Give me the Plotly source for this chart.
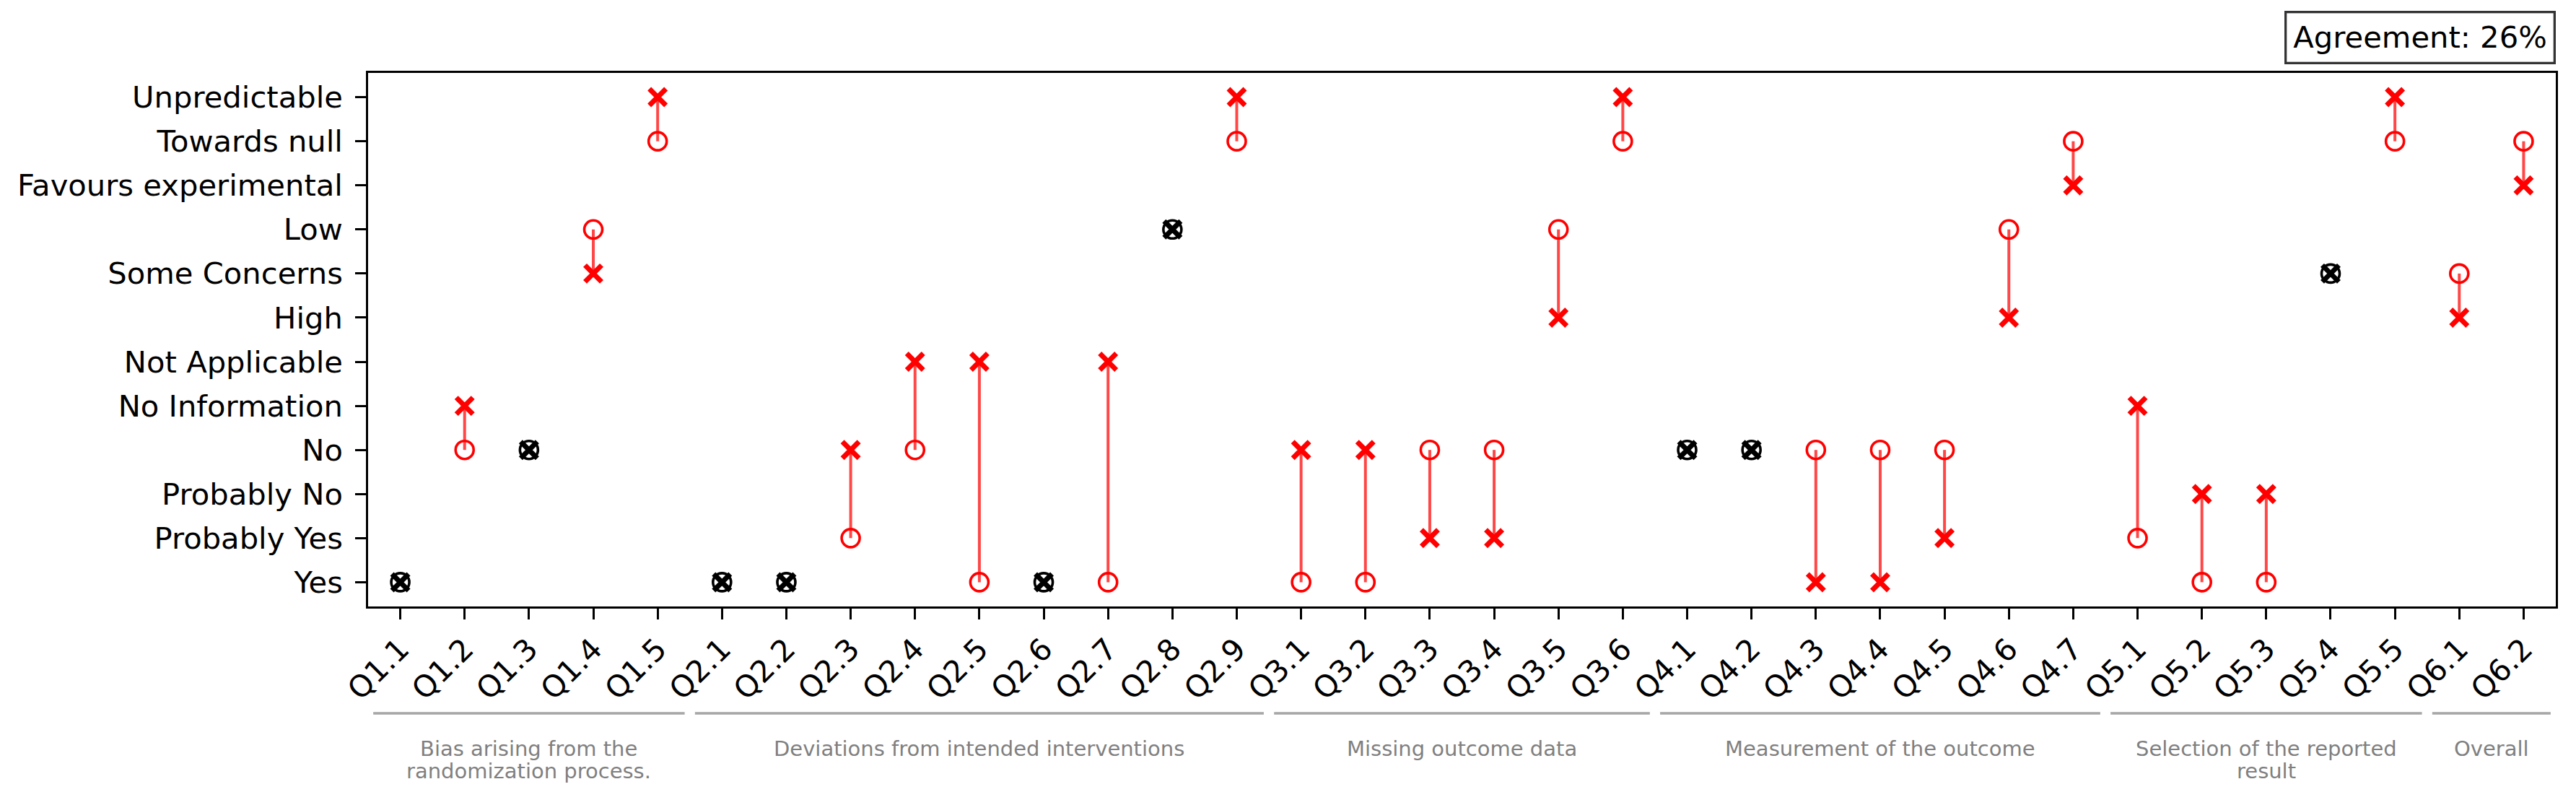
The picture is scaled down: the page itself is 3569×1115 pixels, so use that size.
import plotly.graph_objects as go

questions = ["Q1.1", "Q1.2", "Q1.3", "Q1.4", "Q1.5",
             "Q2.1", "Q2.2", "Q2.3", "Q2.4", "Q2.5", "Q2.6", "Q2.7", "Q2.8", "Q2.9",
             "Q3.1", "Q3.2", "Q3.3", "Q3.4", "Q3.5", "Q3.6",
             "Q4.1", "Q4.2", "Q4.3", "Q4.4", "Q4.5", "Q4.6", "Q4.7",
             "Q5.1", "Q5.2", "Q5.3", "Q5.4", "Q5.5",
             "Q6.1", "Q6.2"]

levels = ["Yes", "Probably Yes", "Probably No", "No", "No Information",
          "Not Applicable", "High", "Some Concerns", "Low",
          "Favours experimental", "Towards null", "Unpredictable"]

rater_circle = ["Yes", "No", "No", "Low", "Towards null",
                "Yes", "Yes", "Probably Yes", "No", "Yes", "Yes", "Yes", "Low", "Towards null",
                "Yes", "Yes", "No", "No", "Low", "Towards null",
                "No", "No", "No", "No", "No", "Low", "Towards null",
                "Probably Yes", "Yes", "Yes", "Some Concerns", "Towards null",
                "Some Concerns", "Towards null"]

rater_cross = ["Yes", "No Information", "No", "Some Concerns", "Unpredictable",
               "Yes", "Yes", "No", "Not Applicable", "Not Applicable", "Yes", "Not Applicable", "Low", "Unpredictable",
               "No", "No", "Probably Yes", "Probably Yes", "High", "Unpredictable",
               "No", "No", "Yes", "Yes", "Probably Yes", "High", "Favours experimental",
               "No Information", "Probably No", "Probably No", "Some Concerns", "Unpredictable",
               "High", "Favours experimental"]

group_names = ["Bias arising from the\nrandomization process.",
               "Deviations from intended interventions",
               "Missing outcome data",
               "Measurement of the outcome",
               "Selection of the reported\nresult",
               "Overall"]
group_sizes = [5, 9, 6, 7, 5, 2]

W, H = 3569, 1115
ML, MR, MT, MB = 510, 28, 101, 275
plot_h = H - MT - MB

agree = [a == b for a, b in zip(rater_circle, rater_cross)]
agreement_pct = round(100 * sum(agree) / len(agree))
colors = ["black" if a else "red" for a in agree]

# connecting lines for disagreements
lx, ly = [], []
for q, a, b, ok in zip(questions, rater_circle, rater_cross, agree):
    if not ok:
        lx += [q, q, None]
        ly += [a, b, None]

fig = go.Figure()
fig.add_trace(go.Scatter(x=lx, y=ly, mode="lines",
                         line=dict(color="rgba(255,0,0,0.72)", width=4),
                         hoverinfo="skip", showlegend=False))
fig.add_trace(go.Scatter(x=questions, y=rater_circle, mode="markers",
                         marker=dict(symbol="circle-open", size=25, color=colors,
                                     line=dict(width=3.6, color=colors)),
                         showlegend=False))
fig.add_trace(go.Scatter(x=questions, y=rater_cross, mode="markers",
                         marker=dict(symbol="x-thin-open", size=23, color=colors,
                                     line=dict(width=7, color=colors)),
                         showlegend=False))

# group brackets
shapes, annotations = [], []
start = 0
for name, n in zip(group_names, group_sizes):
    end = start + n - 1
    shapes.append(dict(type="line", xref="x", yref="paper",
                       x0=start - 0.42, x1=end + 0.42,
                       y0=-148 / plot_h, y1=-148 / plot_h,
                       line=dict(color="#a6a6a6", width=3.3)))
    for i, line in enumerate(name.split("\n")):
        annotations.append(dict(xref="x", yref="paper", x=(start + end) / 2, y=0,
                                yshift=-197 - 31 * i, yanchor="middle", xanchor="center",
                                text=line, showarrow=False,
                                font=dict(size=29, color="#808080", family="DejaVu Sans")))
    start = end + 1

annotations.append(dict(xref="paper", yref="paper", x=1, y=1, xanchor="right", yanchor="bottom",
                        yshift=12, text=f"Agreement: {agreement_pct}%", showarrow=False,
                        bordercolor="#333333", borderwidth=3.3, borderpad=9, bgcolor="white",
                        font=dict(size=41.7, color="black", family="DejaVu Sans")))

fig.update_layout(
    width=W, height=H, autosize=False,
    margin=dict(l=ML, r=MR, t=MT, b=MB, pad=0),
    paper_bgcolor="white", plot_bgcolor="white",
    font=dict(family="DejaVu Sans", size=41.7, color="black"),
    shapes=shapes, annotations=annotations,
    xaxis=dict(type="category", categoryorder="array", categoryarray=questions,
               range=[-0.5, len(questions) - 0.5],
               showline=True, linecolor="black", linewidth=3.3, mirror=True,
               ticks="outside", ticklen=14.6, tickwidth=3.3, tickcolor="black",
               tickangle=-45, showgrid=False, zeroline=False,
               tickfont=dict(size=41.7, family="DejaVu Sans")),
    yaxis=dict(type="category", categoryorder="array", categoryarray=levels,
               range=[-0.55, len(levels) - 1 + 0.55],
               showline=True, linecolor="black", linewidth=3.3, mirror=True,
               ticks="outside", ticklen=14.6, tickwidth=3.3, tickcolor="black",
               showgrid=False, zeroline=False, ticklabelstandoff=9,
               tickfont=dict(size=41.7, family="DejaVu Sans")),
)

fig.write_html("out.html", config={"displayModeBar": False},
               post_script="document.body.style.margin='0';")
